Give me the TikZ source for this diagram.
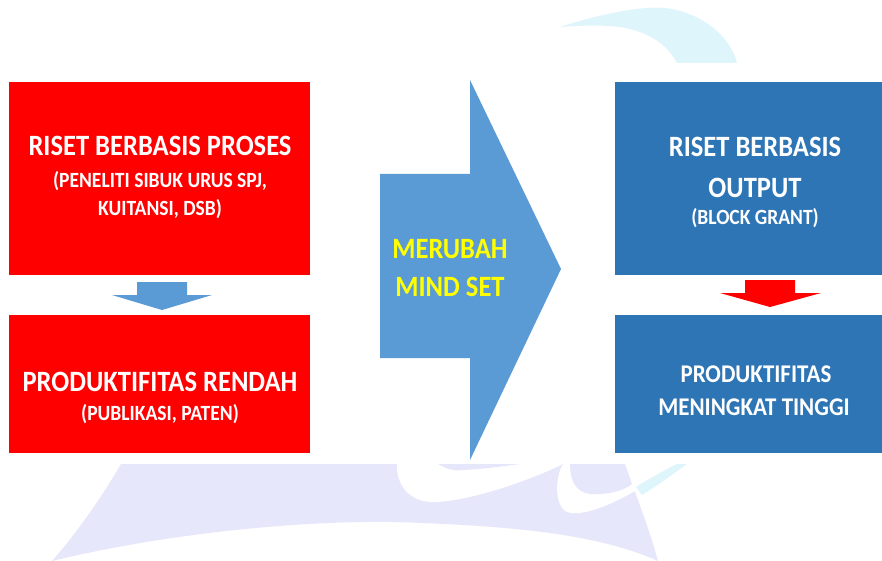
\documentclass[tikz,border=0pt]{standalone}
\usepackage{fontspec}
\setmainfont{Carlito}[FakeStretch=0.9]
\definecolor{pptred}{RGB}{255,0,0}
\definecolor{pptblue}{RGB}{46,117,182}
\definecolor{arrowblue}{RGB}{91,155,213}
\definecolor{wmlav}{RGB}{231,231,251}
\definecolor{wmcyan}{RGB}{223,245,252}
\definecolor{txtyellow}{RGB}{255,255,0}
\begin{document}
\begin{tikzpicture}[x=1pt,y=-1pt,
  box/.style={rectangle, inner sep=0pt, outer sep=0pt, anchor=north west, draw=none},
  redbox/.style={box, fill=pptred},
  bluebox/.style={box, fill=pptblue},
  txt/.style={anchor=base, inner sep=0pt, text=white},
  title/.style={txt, font=\bfseries\fontsize{29.5}{35}\selectfont},
  sub/.style={txt, font=\bfseries\fontsize{21.7}{26}\selectfont},
  midtxt/.style={txt, text=txtyellow, font=\bfseries\fontsize{29.5}{35}\selectfont},
  rbtxt/.style={txt, font=\bfseries\fontsize{25.5}{30}\selectfont}
]
\useasboundingbox (0,0) rectangle (882,561);
\fill[white] (0,0) rectangle (882,561);

% faint watermark logo
\begin{scope}
  \clip (0,0) rectangle (882,63) (0,464) rectangle (882,561);
  \fill[wmcyan] (560,27) .. controls (600,14) and (640,6) .. (665,8)
     .. controls (700,12) and (730,35) .. (737,63) -- (677,63)
     .. controls (665,40) and (640,28) .. (610,26)
     .. controls (590,25) and (575,26) .. (560,27) -- cycle;
  \fill[wmlav] (121,464) .. controls (100,500) and (75,535) .. (52,561)
     .. controls (180,530) and (330,518) .. (422,523)
     .. controls (520,527) and (600,535) .. (658,561)
     .. controls (648,525) and (634,490) .. (625,464) -- cycle;
  % white swoosh A
  \fill[white] (397,464) .. controls (396,480) and (405,500) .. (430,502)
     .. controls (460,503) and (520,485) .. (563,464) -- cycle;
  \fill[wmlav] (438,464) .. controls (448,470) and (455,471) .. (463,470)
     .. controls (485,469) and (505,466) .. (520,464) -- cycle;
  % white swoosh B
  \fill[white] (563,464) .. controls (556,475) and (553,505) .. (567,512)
     .. controls (585,518) and (620,500) .. (640,488)
     .. controls (660,478) and (675,470) .. (687,464) -- cycle;
  \fill[wmlav] (570,464) .. controls (570,480) and (575,492) .. (590,494)
     .. controls (610,495) and (625,490) .. (632,484) -- (625,464) -- cycle;
  \fill[wmcyan] (636,487) .. controls (650,478) and (665,470) .. (677,464)
     -- (687,464) .. controls (672,475) and (655,487) .. (642,495) -- cycle;
\end{scope}

% boxes
\node[redbox, minimum width=301pt, minimum height=193pt] (lt) at (9,82) {};
\node[redbox, minimum width=301pt, minimum height=138pt] (lb) at (9,315) {};
\node[bluebox, minimum width=267pt, minimum height=193pt] (rt) at (615,82) {};
\node[bluebox, minimum width=267pt, minimum height=138pt] (rb) at (615,315) {};

% small block arrows between boxes
\fill[arrowblue] (137,282) -- (187,282) -- (187,295) -- (212,295) -- (162,310)
  -- (112,295) -- (137,295) -- cycle;
\fill[pptred] (745,280) -- (795,280) -- (795,293) -- (821,293) -- (770,307)
  -- (720,293) -- (745,293) -- cycle;

% big arrow
\fill[arrowblue] (380,174) -- (470,174) -- (470,80) -- (561,269) -- (470,460)
  -- (470,358) -- (380,358) -- cycle;

% texts
\node[title] (t1) at (160,156) {RISET BERBASIS PROSES};
\node[sub] (t2) at (160,188) {(PENELITI SIBUK URUS SPJ,};
\node[sub] (t3) at (160,215) {KUITANSI, DSB)};
\node[title] (t4) at (160,391) {PRODUKTIFITAS RENDAH};
\node[sub] (t5) at (160,420) {(PUBLIKASI, PATEN)};
\node[midtxt] (m1) at (450,258) {MERUBAH};
\node[midtxt] (m2) at (450,296) {MIND SET};
\node[title] (r1) at (755,157) {RISET BERBASIS};
\node[title] (r2) at (755,197) {OUTPUT};
\node[sub] (r3) at (755,225) {(BLOCK GRANT)};
\node[rbtxt] (r4) at (756,382) {PRODUKTIFITAS};
\node[rbtxt] (r5) at (754,415) {MENINGKAT TINGGI};
\end{tikzpicture}
\end{document}
